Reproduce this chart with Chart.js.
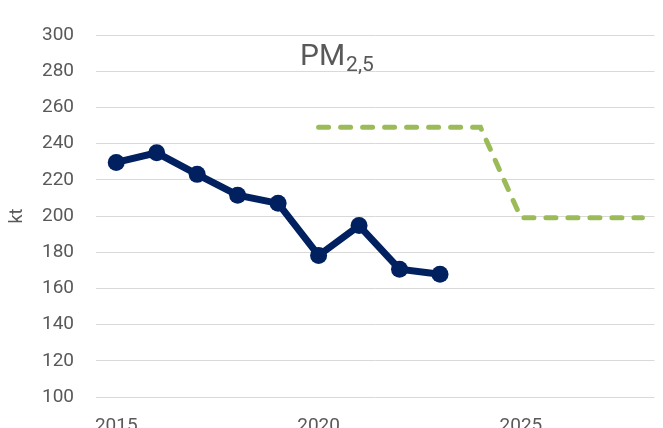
<!DOCTYPE html>
<html>
<head>
<meta charset="utf-8">
<script src="https://cdn.jsdelivr.net/npm/chart.js@4"></script>
<style>
  html, body { margin: 0; padding: 0; background: #fff; overflow: hidden; width: 663px; height: 428px; }
  canvas { display: block; }
</style>
</head>
<body>
<canvas id="c" width="663" height="428"></canvas>
<script>
const years = [2015, 2016, 2017, 2018, 2019, 2020, 2021, 2022, 2023];
const emissions = [229.6, 234.9, 223, 211.5, 207, 178.2, 194.7, 170.6, 167.8];
const targetYears = [2020, 2024, 2025, 2028];
const targetValues = [249, 249, 199, 199];
const xTickValues = [2015, 2020, 2025];
const yMin = 100, yMax = 300, yStep = 20;
const titleMain = 'PM';
const titleSub = '2,5';
const yTitle = 'kt';

const FONT = 'Roboto, "Open Sans", "Liberation Sans", sans-serif';
const GRAY = '#595959';

const titlePlugin = {
  id: 'pmTitle',
  afterDraw(chart) {
    const ctx = chart.ctx;
    ctx.save();
    ctx.fillStyle = GRAY;
    ctx.textBaseline = 'alphabetic';
    ctx.textAlign = 'left';
    ctx.font = '30px ' + FONT;
    const x0 = 300, base = 65;
    ctx.fillText(titleMain, x0, base);
    const w = ctx.measureText(titleMain).width;
    ctx.font = '21px ' + FONT;
    ctx.fillText(titleSub, x0 + w + 1, base + 6);
    ctx.restore();
  }
};

new Chart(document.getElementById('c'), {
  type: 'line',
  data: {
    datasets: [
      {
        data: years.map((y, i) => ({ x: y, y: emissions[i] })),
        borderColor: '#002060',
        backgroundColor: '#002060',
        borderWidth: 7,
        pointRadius: 8.5,
        pointHoverRadius: 8.5,
        pointBorderWidth: 0,
        tension: 0
      },
      {
        data: targetYears.map((y, i) => ({ x: y, y: targetValues[i] })),
        borderColor: '#9bbb59',
        borderWidth: 5,
        borderDash: [10, 12],
        borderCapStyle: 'round',
        pointRadius: 0,
        tension: 0
      }
    ]
  },
  options: {
    responsive: false,
    animation: false,
    layout: { padding: { top: 35, left: 0, right: 0, bottom: 0 } },
    plugins: { legend: { display: false }, tooltip: { enabled: false }, title: { display: false } },
    scales: {
      x: {
        type: 'linear',
        min: 2014.5,
        max: 2028.3,
        afterBuildTicks: s => { s.ticks = xTickValues.map(v => ({ value: v })); },
        afterFit: s => { s.height = 31; s.paddingLeft = 0; s.paddingRight = 0; },
        grid: { display: false, drawTicks: false },
        border: { display: false },
        ticks: {
          color: GRAY,
          font: { family: FONT, size: 19 },
          padding: 17.6,
          maxRotation: 0,
          autoSkip: false,
          callback: v => String(v)
        }
      },
      y: {
        min: yMin,
        max: yMax,
        afterFit: s => { s.width = 96; s.paddingTop = 0; s.paddingBottom = 0; },
        grid: { color: '#d9d9d9', lineWidth: 1, drawTicks: false },
        border: { display: false },
        ticks: {
          stepSize: yStep,
          color: GRAY,
          font: { family: FONT, size: 19 },
          padding: 22
        },
        title: {
          display: true,
          text: yTitle,
          color: GRAY,
          font: { family: FONT, size: 18 },
          padding: { top: 7, bottom: 0 }
        }
      }
    }
  },
  plugins: [titlePlugin]
});
</script>
</body>
</html>
